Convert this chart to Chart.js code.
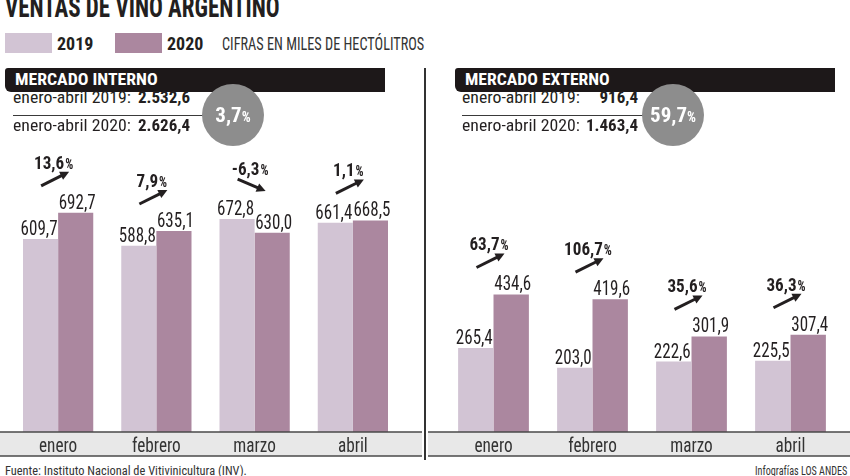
<!DOCTYPE html>
<html>
<head>
<meta charset="utf-8">
<script src="https://cdn.jsdelivr.net/npm/chart.js@4/dist/chart.umd.min.js"></script>
<style>
  body { margin: 0; background: #fff; }
  #page { position: relative; width: 850px; height: 476px; overflow: hidden; background: #fff; }
  .t { position: absolute; white-space: nowrap; line-height: 1; color: #231f20; }
  .sw { position: absolute; width: 47px; height: 20px; }
  .bar { position: absolute; height: 24px; background: #1d1819; border-radius: 3px 0 0 6px; }
  .sep { position: absolute; height: 0; border-top: 1.5px solid #3a3a3a; }
  .circ { position: absolute; width: 62px; height: 62px; border-radius: 50%; background: #8d8d8d; }
  canvas { position: absolute; top: 132px; }
  #divider { position: absolute; left: 424px; top: 68px; width: 2px; height: 392px; background: #333; }
</style>
</head>
<body>
<div id="page">
  <div class="sw" style="left:5px; top:33px; background:#d2c4d4"></div>
  <div class="sw" style="left:115px; top:33px; background:#ab879f"></div>
  <div class="bar" style="left:5px; top:68px; width:380px"></div>
  <div class="bar" style="left:455px; top:68px; width:380px"></div>
  <div class="sep" style="left:13px; top:115px; width:205px"></div>
  <div class="sep" style="left:462px; top:115px; width:195px"></div>
  <div class="circ" style="left:202px; top:84px"></div>
  <div class="circ" style="left:642px; top:84px"></div>
  <div id="divider"></div>
  <canvas id="interno" width="422" height="330" style="left:0"></canvas>
  <canvas id="externo" width="422" height="330" style="left:428px"></canvas>
</div>
<script>
// datos (miles de hectolitros)
const months = ["enero", "febrero", "marzo", "abril"];
const interno2019 = [609.7, 588.8, 672.8, 661.4];
const interno2020 = [692.7, 635.1, 630.0, 668.5];
const internoPct = [13.6, 7.9, -6.3, 1.1];
const externo2019 = [265.4, 203.0, 222.6, 225.5];
const externo2020 = [434.6, 419.6, 301.9, 307.4];
const externoPct = [63.7, 106.7, 35.6, 36.3];
const internoTotal = [2532.6, 2626.4];
const externoTotal = [916.4, 1463.4];
const internoVar = 3.7;
const externoVar = 59.7;
const years = ["2019", "2020"];

const c2019 = "#d2c4d4";
const c2020 = "#ab879f";
const FONT = '"Roboto Condensed", "DejaVu Sans Condensed", sans-serif';

function fmt(v) {
    const parts = v.toFixed(1).split(".");
    parts[0] = parts[0].replace(/\B(?=(\d{3})+(?!\d))/g, ".");
    return parts.join(",");
}

const page = document.getElementById("page");
// o.w = ancho deseado (se ajusta con scaleX)
function addText(html, x, base, fs, o = {}) {
    const d = document.createElement("div");
    d.className = "t";
    d.innerHTML = html;
    d.style.fontSize = fs + "px";
    d.style.fontFamily = FONT;
    d.style.fontWeight = o.bold ? "bold" : "normal";
    if (o.color) d.style.color = o.color;
    d.style.top = (base - 0.842 * fs) + "px";
    page.appendChild(d);
    const sx = o.w ? o.w / d.offsetWidth : 1;
    if (o.align === "right") {
        d.style.right = (850 - x) + "px";
        d.style.transformOrigin = "right";
        d.style.transform = `scaleX(${sx})`;
    } else if (o.align === "center") {
        d.style.left = x + "px";
        d.style.transform = `translateX(-50%) scaleX(${sx})`;
    } else {
        d.style.left = x + "px";
        d.style.transformOrigin = "left";
        d.style.transform = `scaleX(${sx})`;
    }
}

/* cabecera */
addText("VENTAS DE VINO ARGENTINO", 5, 17, 30, { bold: true, w: 275 });
addText(years[0], 57, 50, 18, { bold: true, w: 36 });
addText(years[1], 167, 50, 18, { bold: true, w: 36 });
addText("CIFRAS EN MILES DE HECTÓLITROS", 222, 50, 18, { w: 202, color: "#333" });

addText("MERCADO INTERNO", 15, 85, 17, { bold: true, color: "#fff", w: 143 });
addText("MERCADO EXTERNO", 465, 85, 17, { bold: true, color: "#fff", w: 145 });

/* totales enero-abril */
const totals = [[13, 190, internoTotal, internoVar, 233], [462, 638, externoTotal, externoVar, 673]];
totals.forEach(([lx, rx, vals, pct, cx]) => {
    addText(`enero-abril ${years[0]}:`, lx, 103, 17, { w: 118 });
    addText(fmt(vals[0]), rx, 103, 17, { bold: true, align: "right" });
    addText(`enero-abril ${years[1]}:`, lx, 131, 17, { w: 118 });
    addText(fmt(vals[1]), rx, 131, 17, { bold: true, align: "right" });
    addText(`${fmt(pct)}<span style="font-size:14px">%</span>`, cx, 123, 21,
        { bold: true, color: "#fff", align: "center" });
});

addText("Fuente: Instituto Nacional de Vitivinicultura (INV).", 5, 475, 13, { color: "#333", w: 242 });
addText("Infografías LOS ANDES", 847, 475, 13, { color: "#333", align: "right", w: 92 });

/* plugin: banda de meses, etiquetas y flechas */
function drawText(ctx, s, x, y, font, sx, align) {
    ctx.save();
    ctx.font = font;
    ctx.translate(x, y);
    ctx.scale(sx, 1);
    ctx.textAlign = align;
    ctx.fillText(s, 0, 0);
    ctx.restore();
}

function arrow(ctx, x1, y1, x2, y2) {
    const ang = Math.atan2(y2 - y1, x2 - x1);
    const hl = 9;
    ctx.strokeStyle = "#231f20";
    ctx.fillStyle = "#231f20";
    ctx.lineWidth = 3;
    ctx.beginPath();
    ctx.moveTo(x1, y1);
    ctx.lineTo(x2 - Math.cos(ang) * hl * 0.7, y2 - Math.sin(ang) * hl * 0.7);
    ctx.stroke();
    ctx.beginPath();
    ctx.moveTo(x2, y2);
    ctx.lineTo(x2 - hl * Math.cos(ang) + 4.5 * Math.sin(ang), y2 - hl * Math.sin(ang) - 4.5 * Math.cos(ang));
    ctx.lineTo(x2 - hl * Math.cos(ang) - 4.5 * Math.sin(ang), y2 - hl * Math.sin(ang) + 4.5 * Math.cos(ang));
    ctx.closePath();
    ctx.fill();
}

const overlay = {
    id: "overlay",
    afterDatasetsDraw(chart, args, opts) {
        const ctx = chart.ctx;
        const area = chart.chartArea;
        const x = chart.scales.x;

        // banda del eje
        ctx.save();
        ctx.fillStyle = "#e8e8e8";
        ctx.fillRect(0, area.bottom, chart.width, 24);
        ctx.strokeStyle = "#4a4a4a";
        ctx.lineWidth = 1.5;
        ctx.beginPath();
        ctx.moveTo(0, area.bottom); ctx.lineTo(chart.width, area.bottom);
        ctx.moveTo(0, area.bottom + 24); ctx.lineTo(chart.width, area.bottom + 24);
        ctx.stroke();

        ctx.textBaseline = "alphabetic";
        ctx.fillStyle = "#333";
        chart.data.labels.forEach((m, i) => {
            drawText(ctx, m, x.getPixelForValue(i), area.bottom + 20, `21px ${FONT}`, 0.82, "center");
        });

        // valores sobre las barras
        ctx.fillStyle = "#231f20";
        chart.data.datasets.forEach((ds, d) => {
            chart.getDatasetMeta(d).data.forEach((bar, i) => {
                drawText(ctx, fmt(ds.data[i]), bar.x + (d ? 1.5 : -1.5), bar.y - 4, `20px ${FONT}`, 0.85, "center");
            });
        });

        // variacion interanual
        opts.pct.forEach((p, i) => {
            const cx = x.getPixelForValue(i);
            const top = Math.min(chart.getDatasetMeta(0).data[i].y, chart.getDatasetMeta(1).data[i].y);
            const num = fmt(p);
            ctx.font = `bold 18px ${FONT}`;
            const w1 = ctx.measureText(num).width * 0.95;
            ctx.font = `bold 14px ${FONT}`;
            const w2 = ctx.measureText("%").width * 0.9;
            const sx = cx - 5 - (w1 + w2) / 2;
            drawText(ctx, num, sx, top - 44, `bold 18px ${FONT}`, 0.95, "left");
            drawText(ctx, "%", sx + w1 + 1, top - 44, `bold 14px ${FONT}`, 0.9, "left");
            const my = top - 34;
            if (p >= 0) arrow(ctx, cx - 17, my + 7, cx + 11, my - 7);
            else arrow(ctx, cx - 17, my - 6, cx + 11, my + 6);
        });
        ctx.restore();
    }
};

function makeChart(id, d2019, d2020, pct, padLeft, padRight) {
    return new Chart(document.getElementById(id), {
        type: "bar",
        data: {
            labels: months,
            datasets: [
                { label: years[0], data: d2019, backgroundColor: c2019 },
                { label: years[1], data: d2020, backgroundColor: c2020 }
            ]
        },
        options: {
            responsive: false,
            animation: false,
            layout: { padding: { left: padLeft, right: padRight, top: 0, bottom: 30 } },
            datasets: { bar: { categoryPercentage: 0.715, barPercentage: 1 } },
            scales: {
                x: { display: false },
                y: { display: false, min: 0, max: 948 }
            },
            plugins: {
                legend: { display: false },
                tooltip: { enabled: false },
                overlay: { pct }
            }
        },
        plugins: [overlay]
    });
}

makeChart("interno", interno2019, interno2020, internoPct, 9, 20);
makeChart("externo", externo2019, externo2020, externoPct, 16, 10);
</script>
</body>
</html>
